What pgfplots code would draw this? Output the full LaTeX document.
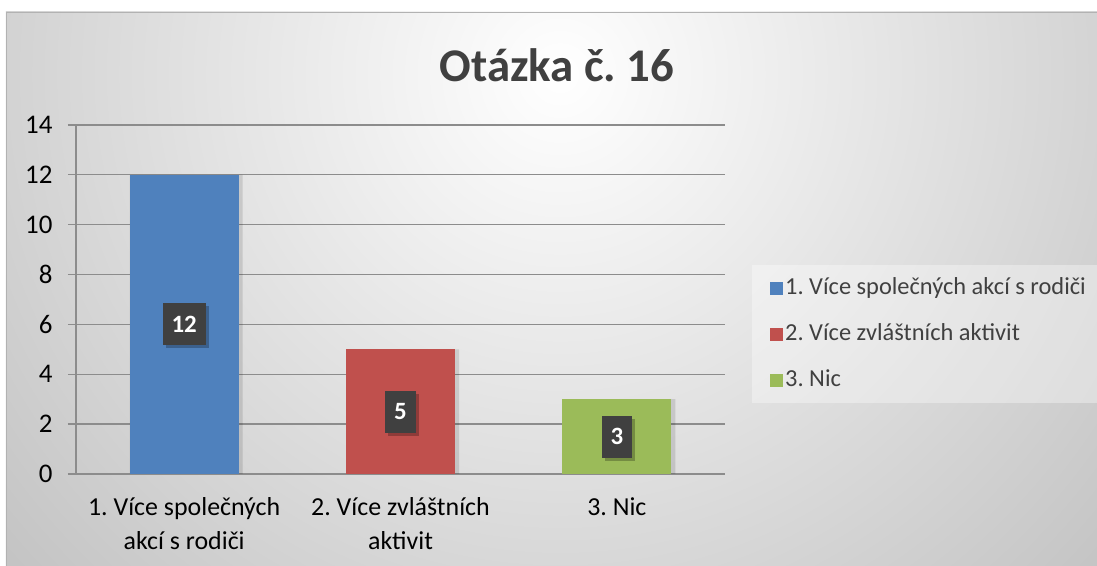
\documentclass[border=0pt]{standalone}
\usepackage{fontspec}
\setmainfont{Carlito}
\usepackage{pgfplots}
\pgfplotsset{compat=1.18}
\usetikzlibrary{shadows}
\definecolor{cblue}{HTML}{4F81BD}
\definecolor{cred}{HTML}{C0504D}
\definecolor{cgreen}{HTML}{9BBB59}
\definecolor{gridc}{HTML}{8C8C8C}
\definecolor{bgout}{HTML}{BDBDBD}
\definecolor{titlec}{HTML}{404040}
\definecolor{lblbox}{HTML}{404040}
\frenchspacing
\begin{document}
\begin{tikzpicture}[x=1bp,y=1bp]
% background
\fill[white] (-76,-92) rectangle (1021,474);
\begin{scope}
\clip (-70,-92) rectangle (1021,462);
\shade[inner color=white, outer color=bgout] (484,400) circle (820);
\end{scope}
\draw[gray!60, line width=0.8bp] (-70,-92) -- (-70,462) -- (1021,462);
\begin{axis}[
  at={(0,0)}, anchor=south west,
  scale only axis, width=649bp, height=349bp,
  xmin=-0.5, xmax=2.5, ymin=0, ymax=14,
  ytick={0,2,...,14},
  xtick={0,1,2},
  xticklabels={{1. Více společných\\akcí s rodiči},{2. Více zvláštních\\aktivit},{3. Nic}},
  x tick label style={align=center, font=\fontsize{26}{34}\selectfont, text=black, yshift=-12bp},
  y tick label style={font=\fontsize{27}{30}\selectfont, text=black, xshift=-12bp},
  /pgf/number format/assume math mode=true,
  axis x line*=bottom, axis y line*=left,
  axis line style={gridc, line width=1.3bp, -},
  ymajorgrids, grid style={gridc, line width=1.3bp},
  major y tick style={gridc, line width=1.3bp},
  major x tick style={draw=none},
  tick align=outside, major tick length=8bp,
  extra x ticks={-0.5,0.5,1.5,2.5},
  extra x tick labels={},
  extra x tick style={grid=none, major tick length=7bp, major x tick style={gridc, line width=1.3bp}},
  legend style={at={(1.0416,0.599)}, anchor=north west, draw=none,
    fill=white, fill opacity=0.35, text opacity=1,
    font=\fontsize{24.5}{29}\selectfont, text=titlec,
    inner xsep=10bp, inner ysep=10bp, row sep=20bp,
    nodes={inner sep=2bp, text height=17bp, text depth=5bp}},
  legend cell align=left,
  legend image code/.code={\path (0bp,0bp); \fill[#1, fill opacity=1] (8bp,-6.5bp) rectangle (21bp,6.5bp);},
]
% soft shadows behind bars
\addplot[forget plot, ybar, bar width=113bp, bar shift=2bp, fill=black, fill opacity=0.06, draw=none] coordinates {(0,12) (1,5) (2,3)};
\addplot[forget plot, ybar, bar width=111bp, bar shift=3bp, fill=black, fill opacity=0.06, draw=none] coordinates {(0,12) (1,5) (2,3)};
\addplot[ybar, bar width=109bp, bar shift=0pt, fill=cblue, draw=none] coordinates {(0,12)};
\addlegendentry{1. Více společných akcí s rodiči}
\addplot[ybar, bar width=109bp, bar shift=0pt, fill=cred, draw=none] coordinates {(1,5)};
\addlegendentry{2. Více zvláštních aktivit}
\addplot[ybar, bar width=109bp, bar shift=0pt, fill=cgreen, draw=none] coordinates {(2,3)};
\addlegendentry{3. Nic}
\addplot[forget plot, only marks, mark=*, mark size=0pt,
  point meta=explicit symbolic, nodes near coords,
  every node near coord/.append style={anchor=center, fill=lblbox, text=white,
    font=\fontsize{25}{28}\selectfont\bfseries, inner xsep=9bp, inner ysep=0pt,
    minimum height=42bp, text height=16bp, text depth=0pt,
    drop shadow={opacity=0.25, shadow xshift=3bp, shadow yshift=-3bp, fill=black, draw=none}}]
  coordinates {(0,6) [12] (1,2.5) [5] (2,1.5) [3]};
\end{axis}
\node[font=\fontsize{47}{56}\selectfont\bfseries, text=titlec] at (481,409) {Otázka č. 16};
\pgfresetboundingbox
\useasboundingbox (-76,-92) rectangle (1021,474);
\end{tikzpicture}
\end{document}
